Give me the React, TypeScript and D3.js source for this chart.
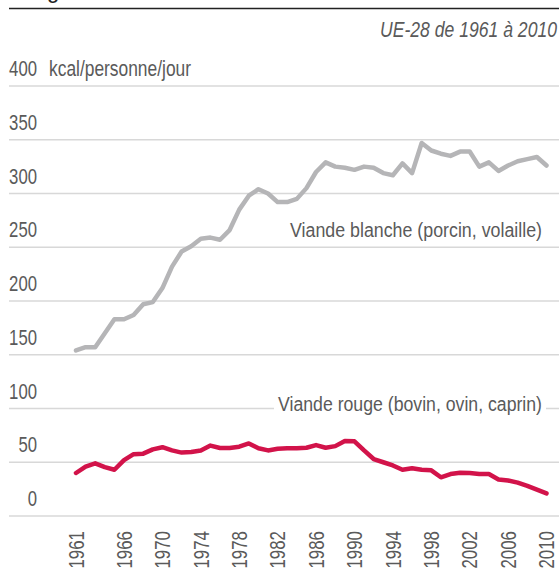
import React from "react";
import * as d3 from "d3";

const years: number[] = d3.range(1961, 2011);

const whiteMeat: number[] = [
  154, 157, 157, 170, 183, 183, 187, 197, 199, 212,
  232, 246, 251, 258, 259, 257, 266, 285, 298, 304,
  300, 292, 292, 295, 305, 320, 329, 325, 324, 322,
  325, 324, 319, 317, 328, 319, 347, 340, 337, 335,
  339, 339, 325, 329, 321, 326, 330, 332, 334, 326,
];

const redMeat: number[] = [
  40, 46, 49, 45.5, 43, 52, 57.5, 58, 62, 64,
  61, 59, 59.5, 61, 65.5, 63.3, 63.3, 64.5, 67.5, 63,
  61, 62.5, 63, 63, 63.5, 66, 63.5, 65, 69.8, 69.5,
  61, 53, 50, 47, 43, 44.5, 43, 42.5, 36, 39,
  40.3, 40, 39, 39, 34, 33, 31, 28, 24.5, 21,
];

const yTicks: number[] = [0, 50, 100, 150, 200, 250, 300, 350, 400];
const xTickYears: number[] = [1961, 1966, 1970, 1974, 1978, 1982, 1986, 1990, 1994, 1998, 2002, 2006, 2010];

const unitLabel = "kcal/personne/jour";
const subtitle = "UE-28 de 1961 à 2010";
const whiteLabel = "Viande blanche (porcin, volaille)";
const redLabel = "Viande rouge (bovin, ovin, caprin)";

const FONT = "'Liberation Sans', Arial, 'Roboto', sans-serif";
const DIGIT_W = 9.3;

export default function App() {
  const W = 559;
  const H = 568;
  const x = d3.scaleLinear().domain([1961, 2010]).range([76, 546.5]);
  const y = d3.scaleLinear().domain([0, 400]).range([516, 86]);

  const line = d3
    .line<number>()
    .x((_, i) => x(years[i]))
    .y((d) => y(d));

  const textColor = "#5a5a5a";

  return (
    <svg
      width={W}
      height={H}
      style={{ position: "absolute", left: 0, top: 0, background: "#fff" }}
      fontFamily={FONT}
    >
      {/* clipped title descender */}
      <text x={47} y={-2} fontSize={22} fill="#222">g</text>
      <line x1={9} x2={W} y1={8.5} y2={8.5} stroke="#222" strokeWidth={1.5} />
      <text
        x={557}
        y={36.5}
        textAnchor="end"
        fontSize={21.5}
        fontStyle="italic"
        fill={textColor}
        textLength={177}
        lengthAdjust="spacingAndGlyphs"
      >
        {subtitle}
      </text>

      {yTicks.map((t) => (
        <g key={t}>
          <line x1={9} x2={W} y1={y(t)} y2={y(t)} stroke="#d8d8d8" strokeWidth={1.3} />
          <text
            x={37}
            y={y(t) - 10}
            textAnchor="end"
            fontSize={22}
            fill={textColor}
            textLength={String(t).length * DIGIT_W}
            lengthAdjust="spacingAndGlyphs"
          >
            {t}
          </text>
        </g>
      ))}
      <text
        x={49}
        y={y(400) - 10}
        fontSize={22}
        fill={textColor}
        textLength={142}
        lengthAdjust="spacingAndGlyphs"
      >
        {unitLabel}
      </text>

      <path d={line(whiteMeat) || ""} fill="none" stroke="#b5b5b7" strokeWidth={4.5} strokeLinejoin="round" strokeLinecap="round" />
      <path d={line(redMeat) || ""} fill="none" stroke="#d2134a" strokeWidth={4.5} strokeLinejoin="round" strokeLinecap="round" />

      <text
        x={542}
        y={237}
        textAnchor="end"
        fontSize={19.5}
        fill={textColor}
        textLength={252}
        lengthAdjust="spacingAndGlyphs"
      >
        {whiteLabel}
      </text>
      <rect x={274} y={394} width={272} height={20} fill="#fff" />
      <text
        x={542}
        y={411}
        textAnchor="end"
        fontSize={19.5}
        fill={textColor}
        textLength={264}
        lengthAdjust="spacingAndGlyphs"
      >
        {redLabel}
      </text>

      {xTickYears.map((yr) => (
        <text
          key={yr}
          transform={`translate(${x(yr)},531) rotate(-90)`}
          textAnchor="end"
          dy="0.35em"
          fontSize={22}
          fill={textColor}
          textLength={37.5}
          lengthAdjust="spacingAndGlyphs"
        >
          {yr}
        </text>
      ))}
    </svg>
  );
}
